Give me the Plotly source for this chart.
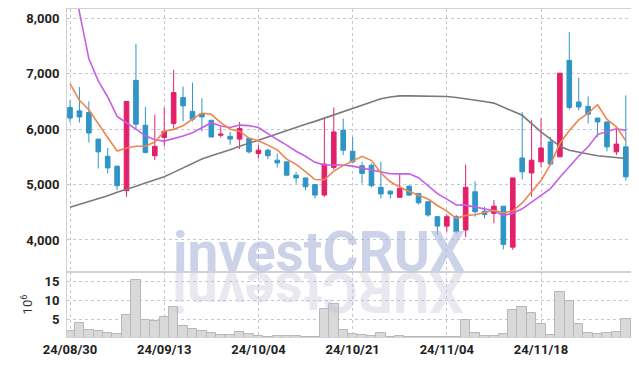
import plotly.graph_objects as go

dates = ["24/08/30","24/09/02","24/09/03","24/09/04","24/09/05","24/09/06","24/09/09","24/09/10","24/09/11","24/09/12",
         "24/09/13","24/09/19","24/09/20","24/09/23","24/09/24","24/09/25","24/09/26","24/09/27","24/09/30","24/10/02",
         "24/10/04","24/10/07","24/10/08","24/10/10","24/10/11","24/10/14","24/10/15","24/10/16","24/10/17","24/10/18",
         "24/10/21","24/10/22","24/10/23","24/10/24","24/10/25","24/10/28","24/10/29","24/10/30","24/10/31","24/11/01",
         "24/11/04","24/11/05","24/11/06","24/11/07","24/11/08","24/11/11","24/11/12","24/11/13","24/11/14","24/11/15",
         "24/11/18","24/11/19","24/11/20","24/11/21","24/11/22","24/11/25","24/11/26","24/11/27","24/11/28","24/11/29"]

open_ = [6390, 6330, 6300, 5820, 5510, 5330, 4890, 6880, 6070, 5520,
         5850, 6100, 6570, 6320, 6280, 6160, 5890, 5870, 5820, 5830,
         5560, 5620, 5440, 5410, 5170, 5120, 5000, 4810, 5310, 5980,
         5600, 5340, 5350, 4950, 4880, 4770, 4970, 4840, 4690, 4420,
         4250, 4420, 4180, 4870, 4520, 4480, 4610, 3870, 5480, 5210,
         5410, 5770, 5500, 7240, 6490, 6410, 6200, 6130, 5590, 5680]
high = [6520, 6760, 6500, 5820, 5660, 5350, 6500, 7540, 6400, 6260,
        6390, 7070, 6770, 6840, 6560, 6160, 6040, 5950, 6130, 5840,
        5720, 5650, 5560, 5410, 5230, 5120, 5000, 6190, 6390, 6190,
        5860, 5410, 5380, 5410, 4900, 5200, 4990, 4840, 4690, 4430,
        4460, 4450, 5360, 5060, 4600, 4720, 4610, 5120, 6310, 6160,
        6190, 5860, 7010, 7750, 6930, 6590, 6200, 6130, 6050, 6610]
low = [6120, 6120, 5760, 5290, 5200, 4900, 4780, 6010, 5560, 5440,
       5690, 6010, 6140, 6140, 5960, 5850, 5850, 5720, 5640, 5560,
       5470, 5460, 5310, 5150, 5020, 4900, 4750, 4780, 5270, 5530,
       5380, 5020, 4950, 4750, 4750, 4770, 4790, 4640, 4420, 4090,
       4150, 4120, 4050, 4420, 4390, 4300, 3830, 3820, 5090, 4780,
       5320, 5350, 5500, 6350, 6340, 6100, 5860, 5600, 5530, 5070]
close = [6200, 6220, 5930, 5590, 5300, 4980, 6500, 6090, 5580, 5690,
         5960, 6660, 6420, 6180, 6220, 5860, 5910, 5820, 6010, 5590,
         5620, 5520, 5390, 5170, 5120, 4960, 4810, 5370, 5950, 5620,
         5410, 5200, 4980, 4830, 4830, 4930, 4810, 4670, 4450, 4250,
         4420, 4150, 4950, 4510, 4460, 4610, 3920, 5120, 5230, 5440,
         5660, 5370, 7010, 6390, 6400, 6270, 6130, 5680, 5730, 5140]

ma5 = [6820, 6520, 6350, 6110, 5848, 5604, 5660, 5692, 5690, 5768,
       5964, 5996, 6062, 6182, 6288, 6268, 6118, 5998, 5964, 5838,
       5790, 5712, 5626, 5458, 5364, 5232, 5090, 5086, 5242, 5342,
       5432, 5510, 5432, 5208, 5050, 4954, 4876, 4814, 4738, 4622,
       4520, 4388, 4444, 4456, 4498, 4536, 4490, 4524, 4668, 4864,
       5074, 5364, 5742, 5974, 6166, 6288, 6440, 6174, 6042, 5790]
ma10 = [8950, 8080, 7270, 6870, 6580, 6230, 6120, 6000, 5880, 5808,
        5784, 5828, 5877, 5936, 6028, 6116, 6057, 6030, 6073, 6063,
        6029, 5915, 5812, 5711, 5601, 5511, 5401, 5356, 5350, 5353,
        5332, 5300, 5259, 5225, 5196, 5193, 5193, 5123, 4973, 4836,
        4737, 4632, 4629, 4597, 4560, 4528, 4439, 4484, 4562, 4681,
        4805, 4927, 5133, 5321, 5515, 5681, 5902, 5958, 6008, 5978]
ma60 = [4590, 4640, 4700, 4750, 4800, 4860, 4910, 4970, 5030, 5080,
        5140, 5220, 5300, 5380, 5460, 5520, 5570, 5630, 5690, 5740,
        5800, 5860, 5920, 5970, 6030, 6090, 6140, 6200, 6260, 6320,
        6380, 6440, 6500, 6550, 6580, 6600, 6600, 6600, 6600, 6595,
        6590, 6570, 6550, 6520, 6500, 6470, 6400, 6330, 6250, 6100,
        5950, 5820, 5690, 5620, 5580, 5550, 5520, 5500, 5490, 5470]

volume_m = [1.95, 4.1, 2.2, 1.95, 1.5, 1.17, 6.36, 15.6, 4.98, 4.8,
            5.84, 8.44, 3.25, 2.47, 2.13, 1.43, 0.9, 0.9, 1.69, 1.17,
            0.83, 0.57, 0.83, 0.83, 0.83, 0.57, 0.57, 7.84, 9.1, 2.4,
            1.17, 1.1, 0.83, 1.6, 0.57, 0.83, 0.57, 0.57, 0.57, 0.57,
            0.57, 0.57, 4.98, 1.6, 0.83, 0.83, 1.35, 7.58, 8.44, 6.8,
            3.95, 1.1, 12.4, 10.0, 3.95, 1.6, 1.35, 1.6, 1.87, 5.25]

tick_dates = ["24/08/30", "24/09/13", "24/10/04", "24/10/21", "24/11/04", "24/11/18"]
price_ticks = [4000, 5000, 6000, 7000, 8000]
volume_ticks = [5, 10, 15]

RED = "#e3206a"
BLUE = "#2f95c6"
ORANGE = "#ee8550"
PURPLE = "#c65ee8"
GRAY = "#7a7a7a"
GRID = "#c6c6da"
FRAME = "#d2d2d2"
FONT = dict(family="Roboto", size=13, color="#222222", weight="bold")

fig = go.Figure()
fig.add_trace(go.Candlestick(
    x=dates, open=open_, high=high, low=low, close=close,
    increasing=dict(line=dict(color=RED, width=1), fillcolor=RED),
    decreasing=dict(line=dict(color=BLUE, width=1), fillcolor=BLUE),
    whiskerwidth=0, xaxis="x", yaxis="y", showlegend=False))
fig.add_trace(go.Scatter(x=dates, y=ma60, mode="lines", line=dict(color=GRAY, width=1.6),
                         xaxis="x", yaxis="y", showlegend=False))
fig.add_trace(go.Scatter(x=dates, y=ma10, mode="lines", line=dict(color=PURPLE, width=1.6),
                         xaxis="x", yaxis="y", showlegend=False))
fig.add_trace(go.Scatter(x=dates, y=ma5, mode="lines", line=dict(color=ORANGE, width=1.6),
                         xaxis="x", yaxis="y", showlegend=False))
fig.add_trace(go.Bar(x=dates, y=volume_m, xaxis="x2", yaxis="y2", showlegend=False,
                     marker=dict(color="#d9d9d9", line=dict(color="#b8b8b8", width=1))))

split = 65 / 328
xcommon = dict(type="category", categoryorder="array", categoryarray=dates,
               range=[-0.32, 59.55], tickvals=tick_dates, ticktext=tick_dates,
               showgrid=True, gridcolor=GRID, griddash="dot", gridwidth=1,
               showline=True, linecolor=FRAME, linewidth=1, mirror=True,
               ticks="", zeroline=False, tickfont=FONT)

# the page body adds an 8px offset, so the figure is sized/margined to compensate
fig.update_layout(
    width=631, height=358,
    margin=dict(l=59, r=8, t=1, b=29),
    paper_bgcolor="white", plot_bgcolor="white",
    bargap=0, showlegend=False,
    xaxis=dict(**xcommon, anchor="y", showticklabels=False, rangeslider=dict(visible=False)),
    xaxis2=dict(**xcommon, anchor="y2", matches="x", showticklabels=True),
    yaxis=dict(domain=[split, 1], range=[3422, 8168], tickvals=price_ticks, tickformat=",",
               showgrid=True, gridcolor=GRID, griddash="dot", zeroline=False,
               showline=True, linecolor=FRAME, mirror=True, ticks="", tickfont=FONT,
               ticklabelstandoff=4),
    yaxis2=dict(domain=[0, split], range=[0.45, 17.6], tickvals=volume_ticks,
                showgrid=True, gridcolor=GRID, griddash="dot", zeroline=False,
                showline=True, linecolor=FRAME, mirror=True, ticks="", tickfont=FONT,
                ticklabelstandoff=4,
                title=dict(text="10<sup>6</sup>", font=dict(family="Roboto", size=13, color="#333333"),
                           standoff=8)),
    annotations=[
        dict(text="investCRUX", xref="paper", yref="paper", x=0.446, y=0.155,
             xanchor="center", yanchor="bottom", showarrow=False,
             font=dict(family="Roboto", size=55, color="rgba(170,180,215,0.6)", weight="bold")),
        dict(text="XURCtsevni", xref="paper", yref="paper", x=0.446, y=0.241,
             xanchor="center", yanchor="top", showarrow=False, textangle=180,
             font=dict(family="Roboto", size=55, color="rgba(190,190,215,0.35)", weight="bold")),
    ],
)

fig.write_html("out.html")
